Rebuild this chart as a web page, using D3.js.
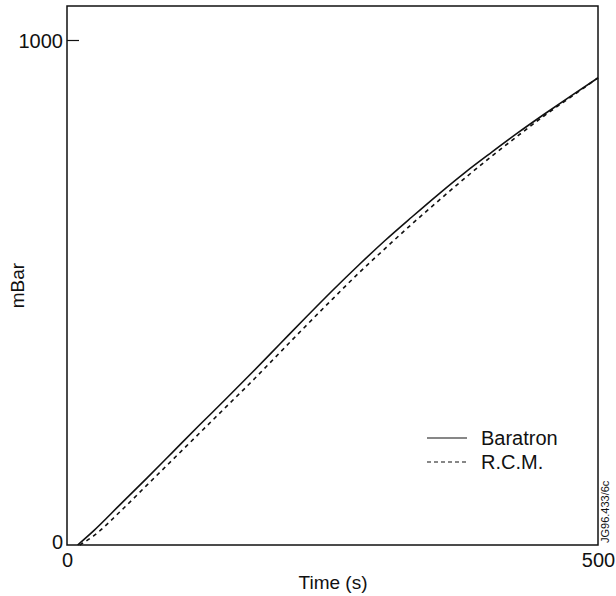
<!DOCTYPE html>
<html>
<head>
<meta charset="utf-8">
<script src="https://cdn.jsdelivr.net/npm/d3@7"></script>
<style>
  body { margin: 0; background: #fff; }
  svg text { font-family: "Liberation Sans", Arial, sans-serif; fill: #111; }
</style>
</head>
<body>
<div id="chart"></div>
<script>
// pressure readings, time in s, pressure in mBar
const baratronTime = [10, 25, 50, 75, 100, 125, 150, 175, 200, 225, 250, 275, 300, 325, 350, 375, 400, 425, 450, 475, 500];
const baratronValues = [0, 28, 80, 132, 185, 238, 290, 343, 397, 451, 504, 555, 604, 650, 695, 738, 778, 817, 854, 890, 925];
const rcmTime = [12, 25, 50, 75, 100, 125, 150, 175, 200, 225, 250, 275, 300, 325, 350, 375, 400, 425, 450, 475, 500];
const rcmValues = [0, 18, 66, 118, 170, 222, 274, 326, 380, 434, 487, 539, 588, 636, 682, 727, 770, 811, 851, 888, 925];
const xTicks = [0, 500];
const yTicks = [0, 1000];
const legendLabels = ["Baratron", "R.C.M."];

const W = 616, H = 596;
const pLeft = 67, pRight = 598, pTop = 6, pBottom = 545;

const svg = d3.select("#chart").append("svg")
  .attr("width", W)
  .attr("height", H);

const x = d3.scaleLinear().domain([0, 500]).range([pLeft, pRight]);
const y = d3.scaleLinear().domain([0, 1000]).range([pBottom, 40]);

// frame
svg.append("rect")
  .attr("x", pLeft).attr("y", pTop)
  .attr("width", pRight - pLeft).attr("height", pBottom - pTop)
  .attr("fill", "none").attr("stroke", "#111").attr("stroke-width", 1.5);

// y axis ticks (inside)
const yAxis = d3.axisLeft(y).tickValues(yTicks).tickSize(-12).tickPadding(4).tickFormat(d3.format("d"));
const gy = svg.append("g").attr("transform", `translate(${pLeft},0)`).call(yAxis);
gy.select(".domain").remove();
gy.selectAll("line").attr("stroke", "#111").attr("stroke-width", 1.2);
gy.selectAll("text").attr("font-size", 20).attr("dy", "0.35em");
gy.selectAll(".tick").filter(d => d === 0).select("line").remove();
gy.selectAll(".tick").filter(d => d === 0).select("text").attr("y", -4);

const xAxis = d3.axisBottom(x).tickValues(xTicks).tickSize(0).tickPadding(8).tickFormat(d3.format("d"));
const gx = svg.append("g").attr("transform", `translate(0,${pBottom})`).call(xAxis);
gx.select(".domain").remove();
gx.selectAll("text").attr("font-size", 20);

// axis titles
svg.append("text")
  .attr("transform", `translate(24,${(pTop + pBottom) / 2 + 10}) rotate(-90)`)
  .attr("text-anchor", "middle")
  .attr("font-size", 19)
  .text("mBar");
svg.append("text")
  .attr("x", 333).attr("y", 589)
  .attr("text-anchor", "middle")
  .attr("font-size", 19)
  .text("Time (s)");

// series
const line = d3.line().x(d => x(d[0])).y(d => y(d[1])).curve(d3.curveMonotoneX);
const baratron = baratronTime.map((t, i) => [t, baratronValues[i]]);
const rcm = rcmTime.map((t, i) => [t, rcmValues[i]]);

svg.append("path").datum(rcm)
  .attr("d", line).attr("fill", "none")
  .attr("stroke", "#111").attr("stroke-width", 1.6)
  .attr("stroke-dasharray", "4,4");
svg.append("path").datum(baratron)
  .attr("d", line).attr("fill", "none")
  .attr("stroke", "#111").attr("stroke-width", 1.6);

// legend
const legend = svg.append("g").attr("transform", "translate(427,438)");
legendLabels.forEach((label, i) => {
  const g = legend.append("g").attr("transform", `translate(0,${i * 24})`);
  g.append("line").attr("x1", 0).attr("x2", 40).attr("y1", 0).attr("y2", 0)
    .attr("stroke", "#111").attr("stroke-width", 1.2)
    .attr("stroke-dasharray", i === 1 ? "4,3" : null);
  g.append("text").attr("x", 54).attr("y", 0).attr("dy", "0.35em")
    .attr("font-size", 20).text(label);
});

// figure code
svg.append("text")
  .attr("transform", "translate(609,543) rotate(-90)")
  .attr("font-size", 11)
  .text("JG96.433/6c");
</script>
</body>
</html>
